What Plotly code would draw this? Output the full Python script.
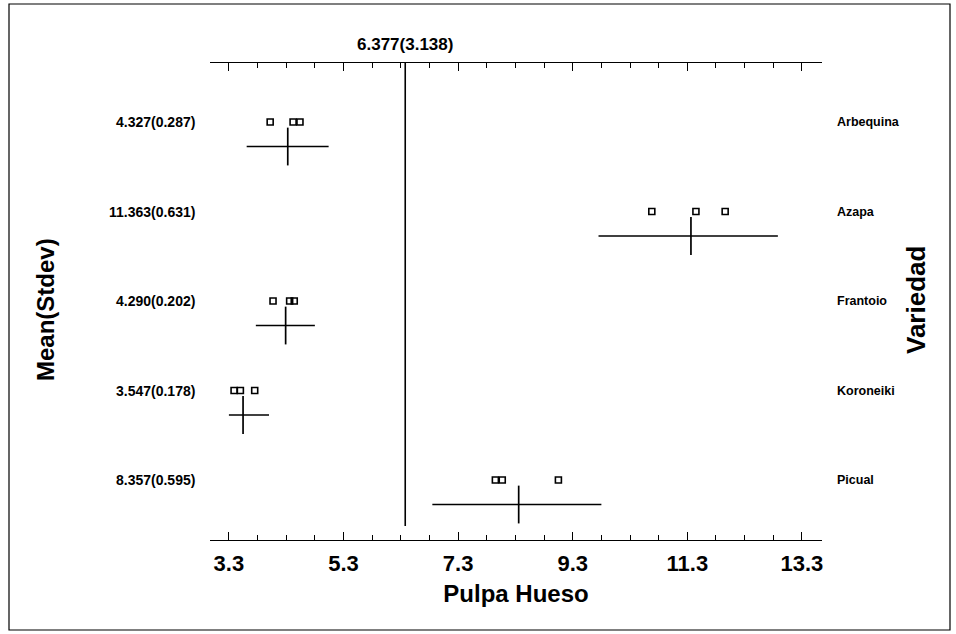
import plotly.graph_objects as go

# ---- data ----
varieties = ["Arbequina", "Azapa", "Frantoio", "Koroneiki", "Picual"]
means = [4.327, 11.363, 4.290, 3.547, 8.357]
stdevs = [0.287, 0.631, 0.202, 0.178, 0.595]
obs = [
    [4.02, 4.42, 4.54],
    [10.68, 11.45, 11.96],
    [4.07, 4.36, 4.44],
    [3.39, 3.50, 3.75],
    [7.95, 8.07, 9.05],
]
interval_low = [3.61, 9.75, 3.77, 3.30, 6.85]
interval_high = [5.04, 12.88, 4.80, 4.00, 9.80]
grand_mean = 6.377
grand_stdev = 3.138
tick_vals = [3.3, 5.3, 7.3, 9.3, 11.3, 13.3]
tick_text = ["3.3", "5.3", "7.3", "9.3", "11.3", "13.3"]
x_title = "Pulpa Hueso"
left_title = "Mean(Stdev)"
right_title = "Variedad"

FONT = "Liberation Sans"
BLACK = "#000000"
row_pos = list(range(len(varieties)))
cross_off = 0.274

# plot area in pixels
PL, PR, PT, PB = 210, 822, 63, 540
W, H = 956, 634
pw, ph = PR - PL, PB - PT


def pxx(x):
    return (x - PL) / pw


def pxy(y):
    return (PB - y) / ph


fig = go.Figure()

# individual observations (open squares)
px, py = [], []
for i, vals in enumerate(obs):
    for v in vals:
        px.append(v)
        py.append(row_pos[i])
fig.add_trace(go.Scatter(
    x=px, y=py, mode="markers",
    marker=dict(symbol="square-open", size=6, color=BLACK, line=dict(width=1.6, color=BLACK)),
    showlegend=False, hoverinfo="x",
))

# mean crosses with intervals
fig.add_trace(go.Scatter(
    x=means, y=[r + cross_off for r in row_pos], mode="markers",
    marker=dict(symbol="line-ns", size=27, color=BLACK, line=dict(width=1.7, color=BLACK)),
    error_x=dict(type="data", symmetric=False,
                 array=[h - m for h, m in zip(interval_high, means)],
                 arrayminus=[m - l for m, l in zip(means, interval_low)],
                 thickness=1.5, width=0, color=BLACK),
    showlegend=False, hoverinfo="x",
))

# dummy trace for top axis
fig.add_trace(go.Scatter(x=[grand_mean], y=[0], xaxis="x2", mode="markers",
                         marker=dict(opacity=0), showlegend=False, hoverinfo="skip"))

xr = [2.97, 13.65]
fig.update_layout(
    width=W, height=H,
    margin=dict(l=PL, r=W - PR, t=PT, b=H - PB, pad=0),
    paper_bgcolor="white", plot_bgcolor="white",
    font=dict(family=FONT, color=BLACK),
    xaxis=dict(
        range=xr, tickmode="array", tickvals=tick_vals, ticktext=tick_text,
        ticks="inside", ticklen=8, tickwidth=1.3, tickcolor=BLACK,
        minor=dict(tickmode="linear", tick0=3.3, dtick=0.5, ticks="inside", ticklen=5,
                   tickwidth=1.1, tickcolor=BLACK, showgrid=False),
        showline=True, linecolor=BLACK, linewidth=1.4, showgrid=False, zeroline=False,
        ticklabelstandoff=3,
        tickfont=dict(family=FONT, size=22, weight="bold", color=BLACK),
        title=dict(text=x_title, font=dict(family=FONT, size=24, weight="bold", color=BLACK), standoff=10),
    ),
    xaxis2=dict(
        range=xr, overlaying="x", side="top", tickmode="linear", tick0=3.3, dtick=2,
        ticks="inside", ticklen=8, tickwidth=1.3, tickcolor=BLACK, showticklabels=False,
        minor=dict(tickmode="linear", tick0=3.3, dtick=0.5, ticks="inside", ticklen=5,
                   tickwidth=1.1, tickcolor=BLACK, showgrid=False),
        showline=True, linecolor=BLACK, linewidth=1.4, showgrid=False, zeroline=False,
    ),
    yaxis=dict(range=[(PB - 122) / 89.5, -(122 - PT) / 89.5], visible=False,
               showgrid=False, zeroline=False),
)

# grand mean vertical line
fig.add_shape(type="line", xref="x", yref="paper", x0=grand_mean, x1=grand_mean,
              y0=pxy(526), y1=1, line=dict(color=BLACK, width=1.6))

ann = []
ann.append(dict(text=f"{grand_mean:.3f}({grand_stdev:.3f})", xref="x", yref="paper",
                x=grand_mean, y=pxy(44), xanchor="center", yanchor="middle", showarrow=False,
                font=dict(family=FONT, size=17, weight="bold", color=BLACK)))
for i, v in enumerate(varieties):
    ann.append(dict(text=f"{means[i]:.3f}({stdevs[i]:.3f})", xref="paper", yref="y",
                    x=pxx(197), y=row_pos[i], xanchor="right", yanchor="middle", showarrow=False,
                    font=dict(family=FONT, size=14, weight="bold", color=BLACK)))
    ann.append(dict(text=v, xref="paper", yref="y", x=pxx(835), y=row_pos[i], xanchor="left",
                    yanchor="middle", showarrow=False,
                    font=dict(family=FONT, size=12.5, weight="bold", color=BLACK)))
ann.append(dict(text=left_title, xref="paper", yref="paper", x=pxx(45), y=pxy(310),
                xanchor="center", yanchor="middle", textangle=-90, showarrow=False,
                font=dict(family=FONT, size=24, weight="bold", color=BLACK)))
ann.append(dict(text=right_title, xref="paper", yref="paper", x=pxx(916), y=pxy(300),
                xanchor="center", yanchor="middle", textangle=-90, showarrow=False,
                font=dict(family=FONT, size=26, weight="bold", color=BLACK)))
fig.update_layout(annotations=ann)

# outer frame
fig.add_shape(type="rect", xref="paper", yref="paper",
              x0=pxx(9), x1=pxx(950), y0=pxy(630), y1=pxy(4),
              line=dict(color=BLACK, width=1.2))

fig.write_html("out.html", config={"displayModeBar": False},
               post_script="document.body.style.margin='0px';")
